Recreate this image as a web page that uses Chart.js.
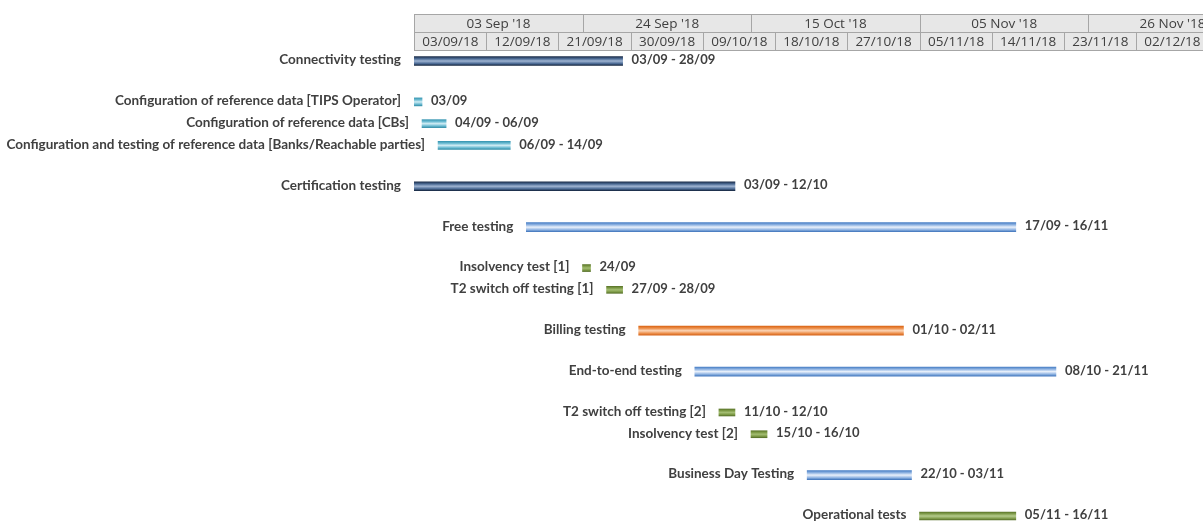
<!DOCTYPE html>
<html>
<head>
<meta charset="utf-8">
<script src="https://cdn.jsdelivr.net/npm/chart.js@4/dist/chart.umd.min.js"></script>
<style>
  html, body { margin: 0; padding: 0; background: #ffffff; }
  #wrap { width: 1203px; height: 522px; position: relative; }
</style>
</head>
<body>
<div id="wrap"><canvas id="c"></canvas></div>
<script>
// ---------------- DATA ----------------
const taskNames = [
  "Connectivity testing",
  "Configuration of reference data [TIPS Operator]",
  "Configuration of reference data [CBs]",
  "Configuration and testing of reference data [Banks/Reachable parties]",
  "Certification testing",
  "Free testing",
  "Insolvency test [1]",
  "T2 switch off testing [1]",
  "Billing testing",
  "End-to-end testing",
  "T2 switch off testing [2]",
  "Insolvency test [2]",
  "Business Day Testing",
  "Operational tests"
];
const startDates = ["2018-09-03","2018-09-03","2018-09-04","2018-09-06","2018-09-03","2018-09-17","2018-09-24","2018-09-27","2018-10-01","2018-10-08","2018-10-11","2018-10-15","2018-10-22","2018-11-05"];
const endDates   = ["2018-09-28","2018-09-03","2018-09-06","2018-09-14","2018-10-12","2018-11-16","2018-09-24","2018-09-28","2018-11-02","2018-11-21","2018-10-12","2018-10-16","2018-11-03","2018-11-16"];
// tasks sharing a group number are drawn on adjacent rows
const taskGroups = [1,2,2,2,3,4,5,5,6,7,8,8,9,10];
const taskKinds  = ["phase","config","config","config","phase","test","check","check","billing","test","check","check","test","ops"];
const topTickLabels    = ["03 Sep '18","24 Sep '18","15 Oct '18","05 Nov '18","26 Nov '18"];
const bottomTickLabels = ["03/09/18","12/09/18","21/09/18","30/09/18","09/10/18","18/10/18","27/10/18","05/11/18","14/11/18","23/11/18","02/12/18"];

// ---------------- STYLES ----------------
const kindStyle = {
  phase:   { stops: ["#1b2d4a", "#4d6c96", "#9fb4d2", "#4d6c96", "#172842"], thick: 9 },
  config:  { stops: ["#3a98b3", "#6fbdd3", "#d0ecf4", "#6fbdd3", "#3690aa"], thick: 8 },
  test:    { stops: ["#4a80c6", "#93b6e3", "#eaf1fb", "#93b6e3", "#467abf"], thick: 9 },
  check:   { stops: ["#5c772a", "#7f9c48", "#a3bd72", "#7f9c48", "#57712a"], thick: 7 },
  billing: { stops: ["#dc6818", "#ee9350", "#fbd4b6", "#ee9350", "#d4631a"], thick: 9 },
  ops:     { stops: ["#5c772a", "#86a252", "#b5cb8d", "#86a252", "#57712a"], thick: 8 }
};
const NAME_FONT = "bold 13.5px Lato, 'Liberation Sans', sans-serif";
const DATE_FONT = "bold 13px Lato, 'Liberation Sans', sans-serif";
const HEAD_FONT = "13.5px 'Open Sans', 'Liberation Sans', sans-serif";
const TEXT_COLOR = "#404040";
const ORIGIN = Date.UTC(2018, 8, 3);
const DAY = 86400000;
const GROUP_GAP = 1.88; // row units between groups

function dayOf(iso) {
  const p = iso.split("-").map(Number);
  return (Date.UTC(p[0], p[1] - 1, p[2]) - ORIGIN) / DAY;
}
function fmt(iso) { const p = iso.split("-"); return p[2] + "/" + p[1]; }
const MONTHS = {Jan:0,Feb:1,Mar:2,Apr:3,May:4,Jun:5,Jul:6,Aug:7,Sep:8,Oct:9,Nov:10,Dec:11};
function dayOfTop(lbl) {
  const m = lbl.match(/(\d+)\s+(\w+)\s+'(\d+)/);
  return (Date.UTC(2000 + Number(m[3]), MONTHS[m[2]], Number(m[1])) - ORIGIN) / DAY;
}
function dayOfBottom(lbl) {
  const p = lbl.split("/").map(Number);
  return (Date.UTC(2000 + p[2], p[1] - 1, p[0]) - ORIGIN) / DAY;
}

// row positions
const rowPos = [];
{
  let pos = 0;
  for (let i = 0; i < taskNames.length; i++) {
    if (i > 0) pos += (taskGroups[i] === taskGroups[i - 1]) ? 1 : GROUP_GAP;
    rowPos.push(pos);
  }
}

// datasets, one per kind
const kinds = Object.keys(kindStyle);
const datasets = kinds.map(kind => {
  const idx = taskNames.map((_, i) => i).filter(i => taskKinds[i] === kind);
  return {
    label: kind,
    data: idx.map(i => ({ x: [dayOf(startDates[i]), dayOf(endDates[i]) + 1], y: rowPos[i], task: i })),
    barThickness: kindStyle[kind].thick,
    grouped: false,
    borderWidth: 0,
    borderSkipped: false,
    backgroundColor: (ctx) => {
      const st = kindStyle[kind];
      if (ctx.type !== "data" || !ctx.chart.scales || !ctx.chart.scales.y) return st.stops[1];
      const yPx = ctx.chart.scales.y.getPixelForValue(ctx.raw.y);
      if (!isFinite(yPx)) return st.stops[1];
      const h = st.thick / 2;
      const g = ctx.chart.ctx.createLinearGradient(0, yPx - h, 0, yPx + h);
      g.addColorStop(0, st.stops[0]);
      g.addColorStop(0.25, st.stops[1]);
      g.addColorStop(0.5, st.stops[2]);
      g.addColorStop(0.78, st.stops[3]);
      g.addColorStop(1, st.stops[4]);
      return g;
    }
  };
});

// header plugin
const headerPlugin = {
  id: "ganttHeader",
  afterDraw(chart) {
    const ctx = chart.ctx, xs = chart.scales.x;
    const left = chart.chartArea.left, right = chart.width + 20;
    const rows = [
      { labels: topTickLabels, parse: dayOfTop, y0: 14, y1: 32 },
      { labels: bottomTickLabels, parse: dayOfBottom, y0: 32, y1: 50 }
    ];
    ctx.save();
    ctx.fillStyle = "#e7e7e7";
    ctx.fillRect(left, 14, right - left, 36);
    ctx.strokeStyle = "#a6a6a6";
    ctx.lineWidth = 1;
    ctx.beginPath();
    ctx.moveTo(left, 14.5); ctx.lineTo(right, 14.5);
    ctx.moveTo(left, 32.5); ctx.lineTo(right, 32.5);
    ctx.moveTo(left, 50.5); ctx.lineTo(right, 50.5);
    ctx.stroke();
    ctx.font = HEAD_FONT;
    ctx.fillStyle = TEXT_COLOR;
    ctx.textAlign = "center";
    ctx.textBaseline = "middle";
    rows.forEach(r => {
      const days = r.labels.map(r.parse);
      const step = days[1] - days[0];
      days.forEach((d, i) => {
        const x0 = Math.round(xs.getPixelForValue(d)) + 0.5;
        const nd = i + 1 < days.length ? days[i + 1] : d + step;
        const x1 = xs.getPixelForValue(nd);
        ctx.beginPath();
        ctx.moveTo(x0, r.y0); ctx.lineTo(x0, r.y1);
        ctx.stroke();
        ctx.fillText(r.labels[i], (x0 + x1) / 2, (r.y0 + r.y1) / 2 + 1);
      });
    });
    ctx.restore();
  }
};

// labels plugin
const labelPlugin = {
  id: "ganttLabels",
  afterDatasetsDraw(chart) {
    const ctx = chart.ctx;
    ctx.save();
    ctx.fillStyle = TEXT_COLOR;
    ctx.textBaseline = "middle";
    chart.data.datasets.forEach((ds, di) => {
      const meta = chart.getDatasetMeta(di);
      meta.data.forEach((el, j) => {
        const t = ds.data[j].task;
        const x0 = Math.min(el.x, el.base), x1 = Math.max(el.x, el.base);
        const y = el.y - 1;
        ctx.font = NAME_FONT;
        ctx.textAlign = "right";
        ctx.fillText(taskNames[t], x0 - 13, y);
        ctx.font = DATE_FONT;
        ctx.textAlign = "left";
        const lbl = startDates[t] === endDates[t] ? fmt(startDates[t]) : fmt(startDates[t]) + " - " + fmt(endDates[t]);
        ctx.fillText(lbl, x1 + 9, y);
      });
    });
    ctx.restore();
  }
};

const ROW_PX = 21.75;
const FIRST_ROW_PX = 11; // first row centre below chart-area top
const AREA_H = 522 - 50;
const yMin = -FIRST_ROW_PX / ROW_PX;
const yMax = yMin + AREA_H / ROW_PX;

const chart = new Chart(document.getElementById("c"), {
  type: "bar",
  data: { datasets },
  options: {
    indexAxis: "y",
    responsive: true,
    maintainAspectRatio: false,
    animation: false,
    layout: { padding: { left: 414, right: 0, top: 50, bottom: 0 } },
    plugins: { legend: { display: false }, tooltip: { enabled: false } },
    scales: {
      x: { type: "linear", min: 0, max: (1203 - 414) / 8.024, display: false, offset: false },
      y: { type: "linear", min: yMin, max: yMax, reverse: true, display: false, offset: false, grace: 0 }
    }
  },
  plugins: [headerPlugin, labelPlugin]
});
chart.update();
</script>
</body>
</html>
